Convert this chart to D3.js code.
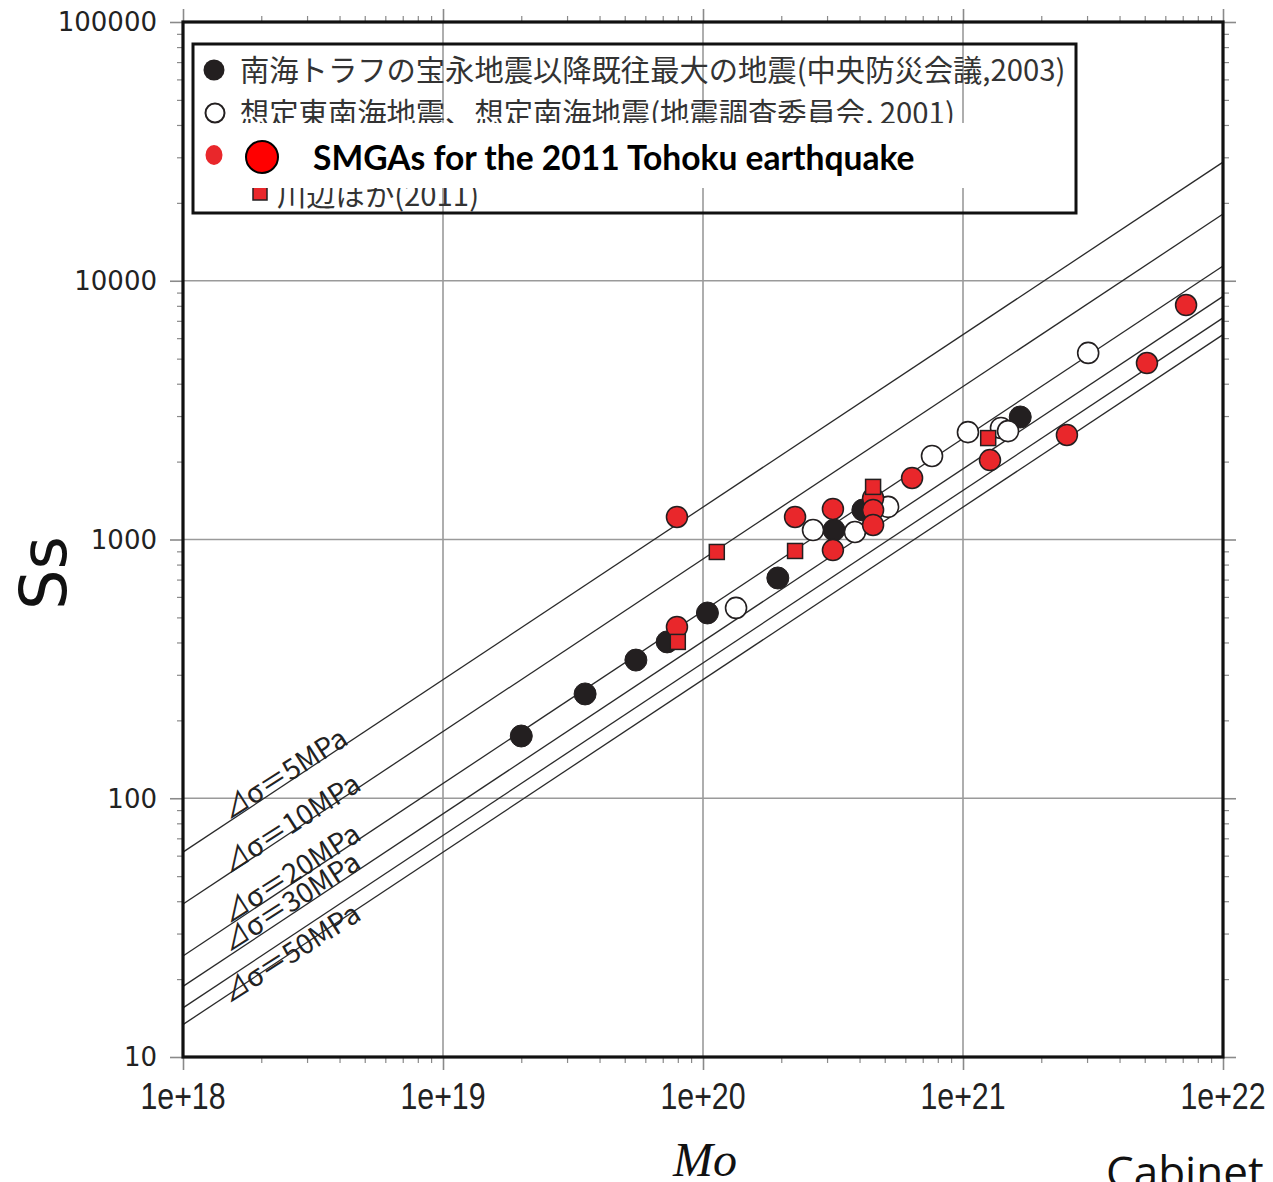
<!DOCTYPE html>
<html>
<head>
<meta charset="utf-8">
<script src="https://cdn.jsdelivr.net/npm/d3@7"></script>
<style>
  html, body { margin: 0; padding: 0; background: #fff; }
  svg { display: block; }
</style>
</head>
<body>
<svg id="chart" width="1273" height="1182"></svg>
<script>
// Seismic moment Mo (N·m) vs. SMGA area Ss (km²)

// 南海トラフの宝永地震以降既往最大の地震 (中央防災会議, 2003)
const nankaiMo = [2.0e19, 3.52e19, 5.52e19, 7.28e19, 1.04e20, 1.94e20, 3.19e20, 4.12e20, 1.66e21];
const nankaiSs = [174, 253, 342, 402, 520, 710, 1088, 1300, 2975];

// 想定東南海地震、想定南海地震 (地震調査委員会, 2001)
const scenarioMo = [1.34e20, 2.65e20, 3.84e20, 5.15e20, 7.6e20, 1.045e21, 1.40e21, 1.49e21, 3.03e21];
const scenarioSs = [544, 1088, 1069, 1337, 2103, 2600, 2698, 2624, 5262];

// SMGAs for the 2011 Tohoku earthquake
const tohokuMo = [7.94e19, 7.94e19, 2.26e20, 3.16e20, 3.16e20, 4.51e20, 4.51e20, 4.51e20, 6.37e20, 1.27e21, 2.51e21, 5.1e21, 7.21e21];
const tohokuSs = [1222, 459, 1222, 1313, 910, 1445, 1300, 1138, 1729, 2027, 2535, 4808, 8054];

// 川辺ほか (2011)
const kawabeMo = [8.0e19, 1.13e20, 2.26e20, 4.51e20, 1.25e21];
const kawabeSs = [402, 895, 903, 1597, 2466];

// Stress-drop reference lines (MPa) and the ones that carry a label
const stressDrops = [5, 10, 20, 30, 40, 50];
const labelledDrops = [5, 10, 20, 30, 50];

// Axis ticks
const xTickValues = [1e18, 1e19, 1e20, 1e21, 1e22];
const xTickLabels = ["1e+18", "1e+19", "1e+20", "1e+21", "1e+22"];
const yTickValues = [10, 100, 1000, 10000, 100000];
const yTickLabels = ["10", "100", "1000", "10000", "100000"];

const legendLabels = [
  "南海トラフの宝永地震以降既往最大の地震(中央防災会議,2003)",
  "想定東南海地震、想定南海地震(地震調査委員会, 2001)",
  "SMGAs for the 2011 Tohoku earthquake",
  "川辺ほか(2011)"
];

// ---------------------------------------------------------------
const svg = d3.select("#chart");
const L = 183, R = 1223, T = 22, B = 1057;

const x = d3.scaleLog().domain([1e18, 1e22]).range([L, R]);
const y = d3.scaleLog().domain([10, 1e5]).range([B, T]);

const RED = "#e9272b", BLACK = "#231f20";
const CJK = "'Noto Sans CJK JP', 'Noto Sans', sans-serif";

// Circular crack: Mo = 16/7 Δσ r³, S = π r²  →  S[km²]
function crackArea(mo, dsMPa) {
  const r = Math.cbrt(7 * mo / (16 * dsMPa * 1e6));
  return Math.PI * r * r / 1e6;
}

// minor tick positions (2..9 within each decade)
const minorX = [];
for (let e = 18; e < 22; e++) for (let m = 2; m <= 9; m++) minorX.push(m * Math.pow(10, e));
const minorY = [];
for (let e = 1; e < 5; e++) for (let m = 2; m <= 9; m++) minorY.push(m * Math.pow(10, e));

// ---- grid
const grid = svg.append("g").attr("stroke", "#9a9a9a").attr("stroke-width", 1.6);
grid.selectAll("line.gx").data(xTickValues.slice(1, -1)).join("line")
  .attr("x1", d => x(d)).attr("x2", d => x(d)).attr("y1", T).attr("y2", B);
grid.selectAll("line.gy").data(yTickValues.slice(1, -1)).join("line")
  .attr("x1", L).attr("x2", R).attr("y1", d => y(d)).attr("y2", d => y(d));

// ---- axes ticks on all four sides (outward)
function styleAxis(g, w) {
  g.select(".domain").remove();
  g.selectAll(".tick line").attr("stroke", "#8a8a8a").attr("stroke-width", w);
}
const axes = [
  [d3.axisBottom(x), `translate(0,${B})`, minorX],
  [d3.axisTop(x), `translate(0,${T})`, minorX],
  [d3.axisLeft(y), `translate(${L},0)`, minorY],
  [d3.axisRight(y), `translate(${R},0)`, minorY]
];
axes.forEach(([ax, tr, minors], i) => {
  const major = i < 2 ? xTickValues : yTickValues;
  svg.append("g").attr("transform", tr)
    .call(ax.tickValues(major).tickSize(13).tickFormat(""))
    .call(g => styleAxis(g, 1.6));
  svg.append("g").attr("transform", tr)
    .call(ax.tickValues(minors).tickSize(6).tickFormat(""))
    .call(g => styleAxis(g, 1.2));
});

// tick labels (condensed for the x axis)
svg.append("g").selectAll("text").data(xTickValues).join("text")
  .attr("transform", d => `translate(${x(d)},1109) scale(0.82,1)`)
  .attr("text-anchor", "middle")
  .attr("font-family", "'Liberation Sans', sans-serif")
  .attr("font-size", 37).attr("fill", "#222")
  .text((d, i) => xTickLabels[i]);

svg.append("g").selectAll("text").data(yTickValues).join("text")
  .attr("x", 157).attr("y", d => y(d)).attr("dy", "0.36em")
  .attr("text-anchor", "end")
  .attr("font-family", "'DejaVu Sans', sans-serif")
  .attr("font-size", 26).attr("fill", "#222")
  .text((d, i) => yTickLabels[i]);

// axis titles
svg.append("text")
  .attr("transform", "translate(66,610) rotate(-90)")
  .attr("font-family", "'DejaVu Sans', sans-serif")
  .attr("font-size", 64).attr("fill", "#111")
  .text("Ss");

svg.append("text")
  .attr("x", 705).attr("y", 1176).attr("text-anchor", "middle")
  .attr("font-family", "'Liberation Serif', serif").attr("font-style", "italic")
  .attr("font-size", 48).attr("fill", "#111")
  .text("Mo");

// ---- stress-drop lines
svg.append("clipPath").attr("id", "plotClip")
  .append("rect").attr("x", L).attr("y", T).attr("width", R - L).attr("height", B - T);

const lineGen = d3.line().x(d => x(d[0])).y(d => y(d[1]));
svg.append("g").attr("clip-path", "url(#plotClip)")
  .selectAll("path").data(stressDrops).join("path")
  .attr("d", ds => lineGen([1e18, 1e22].map(mo => [mo, crackArea(mo, ds)])))
  .attr("fill", "none").attr("stroke", "#2a2a2a").attr("stroke-width", 1.3);

// labels sitting along the lines
const slopeAngle = Math.atan2(y(crackArea(1e22, 5)) - y(crackArea(1e18, 5)), x(1e22) - x(1e18)) * 180 / Math.PI;
const labelMo = 1.5e18;
const labelShift = { 5: 0, 10: 2, 20: 0, 30: -2, 50: 11 };
svg.append("g").selectAll("text").data(labelledDrops).join("text")
  .attr("transform", ds => `translate(${x(labelMo)},${y(crackArea(labelMo, ds)) - 1 + labelShift[ds]}) rotate(${slopeAngle + 1})`)
  .attr("font-family", CJK).attr("font-size", 28).attr("fill", "#222")
  .text(ds => `⊿σ＝${ds}MPa`);

// ---- data markers
const CR = 11;
svg.append("g").selectAll("circle").data(d3.zip(nankaiMo, nankaiSs)).join("circle")
  .attr("cx", d => x(d[0])).attr("cy", d => y(d[1])).attr("r", CR)
  .attr("fill", BLACK).attr("stroke", BLACK).attr("stroke-width", 1);

svg.append("g").selectAll("circle").data(d3.zip(scenarioMo, scenarioSs)).join("circle")
  .attr("cx", d => x(d[0])).attr("cy", d => y(d[1])).attr("r", CR - 0.5)
  .attr("fill", "#fff").attr("stroke", BLACK).attr("stroke-width", 1.6);

svg.append("g").selectAll("circle").data(d3.zip(tohokuMo, tohokuSs)).join("circle")
  .attr("cx", d => x(d[0])).attr("cy", d => y(d[1])).attr("r", CR - 0.5)
  .attr("fill", RED).attr("stroke", BLACK).attr("stroke-width", 1.5);

const SQ = 15;
svg.append("g").selectAll("rect").data(d3.zip(kawabeMo, kawabeSs)).join("rect")
  .attr("x", d => x(d[0]) - SQ / 2).attr("y", d => y(d[1]) - SQ / 2)
  .attr("width", SQ).attr("height", SQ)
  .attr("fill", RED).attr("stroke", BLACK).attr("stroke-width", 1.5);

// ---- plot frame
svg.append("rect").attr("x", L).attr("y", T).attr("width", R - L).attr("height", B - T)
  .attr("fill", "none").attr("stroke", "#111").attr("stroke-width", 3.2);

// ---- legend
const leg = svg.append("g");
leg.append("rect").attr("x", 193).attr("y", 44).attr("width", 883).attr("height", 169)
  .attr("fill", "none").attr("stroke", "#111").attr("stroke-width", 3);

leg.append("circle").attr("cx", 214).attr("cy", 70).attr("r", 10.5).attr("fill", BLACK);
leg.append("circle").attr("cx", 215).attr("cy", 113).attr("r", 9.5)
  .attr("fill", "#fff").attr("stroke", BLACK).attr("stroke-width", 2);
leg.append("rect").attr("x", 253).attr("y", 186).attr("width", 14).attr("height", 14)
  .attr("fill", RED).attr("stroke", BLACK).attr("stroke-width", 1.5);

leg.append("text").attr("x", 240).attr("y", 70).attr("dy", "0.36em")
  .attr("font-family", CJK).attr("font-size", 29.3).attr("fill", "#333").text(legendLabels[0]);
leg.append("text").attr("x", 240).attr("y", 113).attr("dy", "0.36em")
  .attr("font-family", CJK).attr("font-size", 29.3).attr("fill", "#333").text(legendLabels[1]);
leg.append("text").attr("x", 277).attr("y", 195).attr("dy", "0.36em")
  .attr("font-family", CJK).attr("font-size", 29.3).attr("fill", "#333").text(legendLabels[3]);

// pasted caption panel for the Tohoku SMGAs
leg.append("rect").attr("x", 238).attr("y", 123).attr("width", 832).attr("height", 65).attr("fill", "#fff");
leg.append("ellipse").attr("cx", 214).attr("cy", 155).attr("rx", 8.5).attr("ry", 10).attr("fill", RED);
leg.append("circle").attr("cx", 262).attr("cy", 157).attr("r", 16)
  .attr("fill", "#ff0000").attr("stroke", "#000").attr("stroke-width", 2);
leg.append("text").attr("x", 313).attr("y", 158).attr("dy", "0.36em")
  .attr("font-family", "Lato, 'Open Sans', sans-serif").attr("font-weight", 700)
  .attr("font-size", 33.6).attr("fill", "#000").text(legendLabels[2]);

// source note
svg.append("text").attr("x", 1106).attr("y", 1188)
  .attr("font-family", "'Open Sans', sans-serif").attr("font-size", 44).attr("fill", "#111")
  .text("Cabinet");
</script>
</body>
</html>
